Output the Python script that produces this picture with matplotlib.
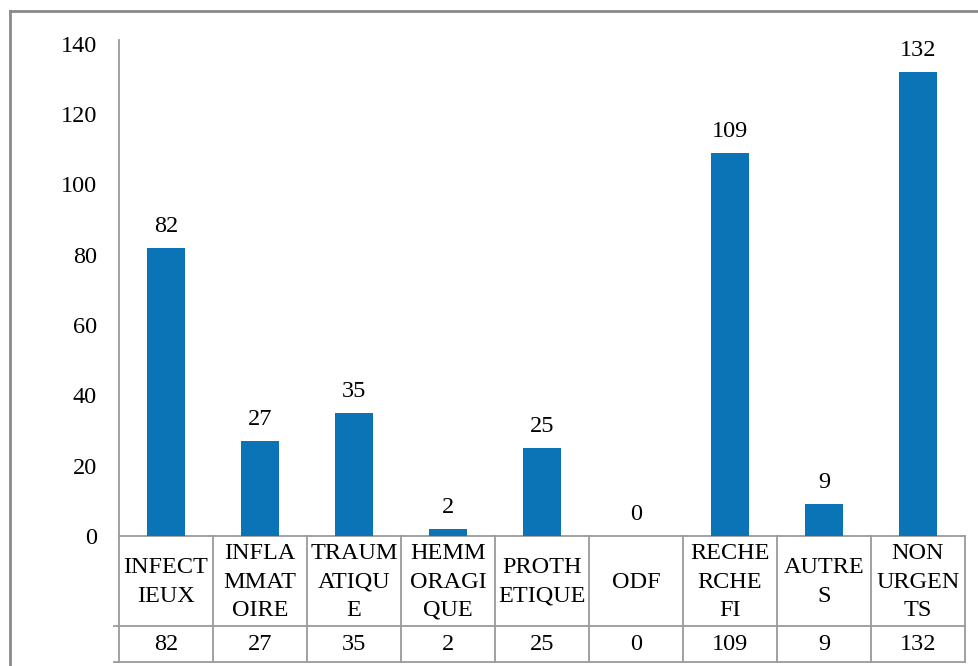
import numpy as np
import matplotlib.pyplot as plt
import matplotlib.transforms as mtransforms
from matplotlib.lines import Line2D

# data
CATEGORIES = ["INFECT\nIEUX", "INFLA\nMMAT\nOIRE", "TRAUM\nATIQU\nE",
              "HEMM\nORAGI\nQUE", "PROTH\nETIQUE", "ODF", "RECHE\nRCHE\nFI",
              "AUTRE\nS", "NON\nURGEN\nTS"]
VALUES = [82, 27, 35, 2, 25, 0, 109, 9, 132]
YTICKS = [0, 20, 40, 60, 80, 100, 120, 140]

BAR_COLOR = '#0B74B7'
LINE_GRAY = '#9A9A9A'
FONT = 'Liberation Serif'
FS = 17.5

W, H = 979, 666
fig = plt.figure(figsize=(W/100, H/100), dpi=100)

# axes placed in pixel positions of the reference
ax_left, ax_right, ax_bottom, ax_top = 119, 965, 536, 40
ax = fig.add_axes([ax_left/W, 1-ax_bottom/H, (ax_right-ax_left)/W, (ax_bottom-ax_top)/H])

x = np.arange(len(VALUES))
ax.bar(x, VALUES, width=0.4, color=BAR_COLOR, zorder=3)
ax.set_xlim(-0.5, len(VALUES)-0.5)
ax.set_ylim(0, 141)
ax.set_yticks(YTICKS)
ax.set_yticklabels([str(t) for t in YTICKS], fontfamily=FONT, fontsize=FS)
ax.tick_params(axis='y', length=0, pad=16)
ax.set_xticks([])

for s in ['top', 'right']:
    ax.spines[s].set_visible(False)
for s in ['left', 'bottom']:
    ax.spines[s].set_color(LINE_GRAY)
    ax.spines[s].set_linewidth(1.3)

for xi, v in zip(x, VALUES):
    ax.annotate(str(v), (xi, v), xytext=(0, 11.5), textcoords='offset points',
                ha='center', va='baseline', fontfamily=FONT, fontsize=FS)

# data table under the axis
tr = mtransforms.blended_transform_factory(ax.transData, fig.transFigure)
def fy(px):
    return 1 - px/H

row_mid, row_bot = 626, 662
n = len(VALUES)
for b in np.arange(n+1) - 0.5:
    ax.add_line(Line2D([b, b], [fy(ax_bottom), fy(row_bot)], transform=tr,
                       color=LINE_GRAY, lw=1.3, clip_on=False))
for py in [row_mid, row_bot]:
    ax.add_line(Line2D([-0.55, n-0.5], [fy(py), fy(py)], transform=tr,
                       color=LINE_GRAY, lw=1.3, clip_on=False))

for xi, lab, v in zip(x, CATEGORIES, VALUES):
    ax.text(xi, fy((ax_bottom+row_mid)/2 + 1), lab, transform=tr, ha='center',
            va='center', multialignment='center', fontfamily=FONT, fontsize=FS,
            linespacing=1.46)
    ax.text(xi, fy((row_mid+row_bot)/2), str(v), transform=tr, ha='center',
            va='center', fontfamily=FONT, fontsize=FS)

# outer chart border (cut off at right and bottom)
fig.add_artist(Line2D([10/W, 10/W], [fy(11), 0], transform=fig.transFigure,
                      color='#8A8A8A', lw=2))
fig.add_artist(Line2D([10/W, 1], [fy(11), fy(11)], transform=fig.transFigure,
                      color='#8A8A8A', lw=2))

fig.savefig('out.png', dpi=100)
